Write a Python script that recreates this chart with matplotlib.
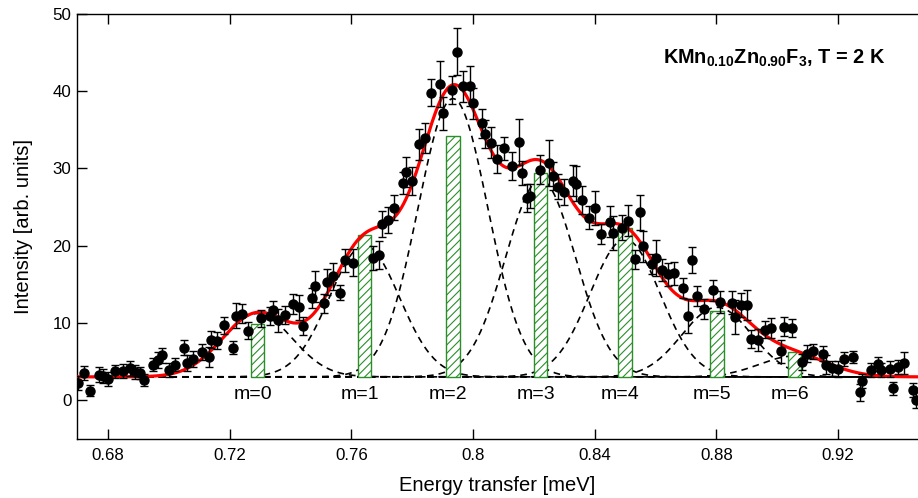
import numpy as np
import matplotlib
matplotlib.use('Agg')
import matplotlib.pyplot as plt

plt.rcParams['font.family'] = ['Liberation Sans', 'DejaVu Sans']
plt.rcParams['mathtext.default'] = 'regular'
plt.rcParams['hatch.linewidth'] = 0.8

# measured points: energy [meV], intensity, error
energy = [0.6700, 0.6721, 0.6741, 0.6770, 0.6783, 0.6800, 0.6822, 0.6850, 0.6872, 0.6888,
          0.6905, 0.6919, 0.6949, 0.6965, 0.6978, 0.7000, 0.7020, 0.7049, 0.7061, 0.7079,
          0.7109, 0.7131, 0.7140, 0.7159, 0.7181, 0.7211, 0.7221, 0.7242, 0.7259, 0.7303,
          0.7331, 0.7341, 0.7360, 0.7382, 0.7409, 0.7429, 0.7440, 0.7470, 0.7481, 0.7510,
          0.7519, 0.7541, 0.7561, 0.7579, 0.7604, 0.7672, 0.7691, 0.7700, 0.7719, 0.7741,
          0.7771, 0.7781, 0.7801, 0.7821, 0.7841, 0.7861, 0.7891, 0.7902, 0.7930, 0.7948,
          0.7968, 0.7991, 0.8001, 0.8029, 0.8040, 0.8060, 0.8080, 0.8102, 0.8129, 0.8150,
          0.8160, 0.8176, 0.8187, 0.8219, 0.8249, 0.8263, 0.8279, 0.8299, 0.8329, 0.8340,
          0.8359, 0.8380, 0.8400, 0.8422, 0.8449, 0.8460, 0.8490, 0.8509, 0.8531, 0.8550,
          0.8558, 0.8590, 0.8602, 0.8620, 0.8642, 0.8660, 0.8691, 0.8708, 0.8720, 0.8738,
          0.8760, 0.8790, 0.8812, 0.8851, 0.8861, 0.8880, 0.8902, 0.8915, 0.8937, 0.8959,
          0.8980, 0.9011, 0.9022, 0.9049, 0.9080, 0.9099, 0.9119, 0.9152, 0.9160, 0.9179,
          0.9201, 0.9220, 0.9250, 0.9272, 0.9280, 0.9310, 0.9330, 0.9341, 0.9371, 0.9380,
          0.9398, 0.9418, 0.9448, 0.9455]
intensity = [2.2, 3.5, 1.2, 3.3, 3.1, 2.7, 3.7, 3.8, 4.1, 3.6,
             3.5, 2.6, 4.6, 5.2, 5.8, 3.9, 4.6, 6.8, 4.8, 5.3,
             6.2, 5.6, 7.8, 7.7, 9.7, 6.8, 10.9, 11.2, 9.0, 10.6,
             10.9, 11.6, 10.3, 11.0, 12.4, 12.0, 9.6, 13.2, 14.7, 12.5,
             15.3, 16.0, 13.9, 18.1, 17.8, 18.4, 18.8, 22.8, 23.3, 24.9,
             28.1, 29.5, 28.4, 33.1, 33.9, 39.8, 40.9, 37.1, 40.1, 45.1,
             40.6, 40.6, 38.4, 35.8, 34.4, 33.3, 31.2, 32.6, 30.3, 33.4,
             29.4, 26.1, 26.4, 29.8, 30.7, 29.0, 27.6, 26.9, 28.4, 28.0,
             25.9, 23.6, 24.8, 21.5, 23.1, 21.6, 22.3, 23.2, 18.2, 24.3,
             19.9, 17.6, 18.4, 16.8, 16.3, 16.4, 14.5, 10.9, 18.1, 13.5,
             11.8, 14.2, 12.7, 12.6, 10.8, 12.3, 12.3, 7.9, 7.8, 9.1,
             9.3, 6.3, 9.5, 9.3, 4.9, 6.0, 6.3, 6.0, 4.6, 4.1,
             4.0, 5.3, 5.6, 1.0, 2.5, 3.9, 4.7, 3.9, 4.0, 1.5,
             4.3, 4.8, 1.3, 0.0]
error = [0.9, 0.9, 0.7, 1.0, 0.9, 0.9, 0.9, 0.9, 1.0, 0.9,
         0.8, 0.8, 0.9, 1.0, 1.0, 0.9, 0.9, 1.0, 1.0, 1.0,
         1.0, 1.3, 1.1, 1.1, 1.1, 0.9, 1.6, 1.2, 1.1, 1.1,
         1.2, 1.2, 1.5, 1.2, 1.3, 1.6, 1.2, 1.3, 2.0, 1.2,
         1.7, 1.8, 1.0, 1.5, 1.8, 1.6, 1.8, 1.7, 1.7, 1.6,
         1.4, 1.9, 1.8, 2.0, 1.9, 1.7, 3.0, 2.1, 1.8, 3.0,
         2.0, 2.6, 2.0, 1.9, 1.8, 2.0, 1.8, 1.5, 1.8, 3.0,
         1.6, 1.8, 1.6, 1.9, 3.0, 1.8, 1.6, 1.7, 2.0, 2.3,
         1.8, 1.5, 2.2, 1.3, 2.0, 2.2, 1.6, 2.0, 1.2, 2.3,
         2.0, 1.3, 2.3, 1.4, 1.5, 1.5, 1.3, 2.2, 1.7, 1.3,
         1.3, 1.4, 1.4, 1.5, 2.2, 1.5, 2.0, 1.2, 1.4, 1.1,
         1.3, 1.5, 1.2, 1.2, 1.0, 1.1, 1.0, 1.0, 1.2, 1.0,
         1.0, 0.9, 0.8, 1.1, 0.9, 0.9, 0.9, 0.9, 1.0, 0.9,
         0.9, 1.4, 0.9, 1.0]

# fitted components (gaussian), bars show mode intensities
labels = ['m=0', 'm=1', 'm=2', 'm=3', 'm=4', 'm=5', 'm=6']
centers = [0.7291, 0.7643, 0.7934, 0.8222, 0.8500, 0.8802, 0.9057]
amps = [8.2, 17.0, 36.0, 25.5, 17.8, 9.0, 2.7]
bar_tops = [9.9, 21.3, 34.2, 29.4, 22.3, 11.5, 6.2]
baseline = 3.0
sigma = 0.0115

xx = np.linspace(0.6698, 0.9465, 800)
comps = [baseline + a * np.exp(-(xx - c) ** 2 / (2 * sigma ** 2)) for a, c in zip(amps, centers)]
total = baseline + sum(c - baseline for c in comps)

fig = plt.figure(figsize=(9.18, 4.98), dpi=100)
ax = fig.add_axes([0.0839, 0.1191, 0.9161, 0.8534])

for comp in comps:
    ax.plot(xx, comp, color='black', lw=1.2, ls=(0, (4, 3)), zorder=2)

ax.bar(centers, np.array(bar_tops) - baseline, bottom=baseline, width=0.0044,
       facecolor='white', edgecolor='#2a8f2a', hatch='////', lw=1.0, zorder=3)

ax.plot(xx, total, color='red', lw=2.3, zorder=5)

ax.errorbar(energy, intensity, yerr=error, fmt='o', color='black', ms=6.5,
            elinewidth=1.0, capsize=3, capthick=1.0, zorder=6)

for lab, c in zip(labels, centers):
    ax.text(c - 0.0015, 0.7, lab, ha='center', va='center', fontsize=14)

ax.text(0.697, 0.882, r'KMn$_{0.10}$Zn$_{0.90}$F$_3$, T = 2 K', transform=ax.transAxes,
        fontsize=14.3, fontweight='bold', ha='left', va='baseline')

ax.set_xlim(0.6698, 0.9463)
ax.set_ylim(-5, 50)
ax.set_xticks([0.68, 0.72, 0.76, 0.80, 0.84, 0.88, 0.92])
ax.set_xticklabels(['0.68', '0.72', '0.76', '0.8', '0.84', '0.88', '0.92'])
ax.set_yticks([0, 10, 20, 30, 40, 50])
ax.tick_params(direction='in', length=7, width=1, labelsize=12.2, top=True, right=False)
ax.tick_params(axis='x', pad=7)
ax.tick_params(axis='y', pad=4)
ax.spines['right'].set_visible(False)
for s in ['left', 'top', 'bottom']:
    ax.spines[s].set_linewidth(1.0)

ax.set_xlabel('Energy transfer [meV]', fontsize=14.5, labelpad=9)
ax.set_ylabel('Intensity [arb. units]', fontsize=14.5, labelpad=14)

fig.savefig('out.png', dpi=100)
